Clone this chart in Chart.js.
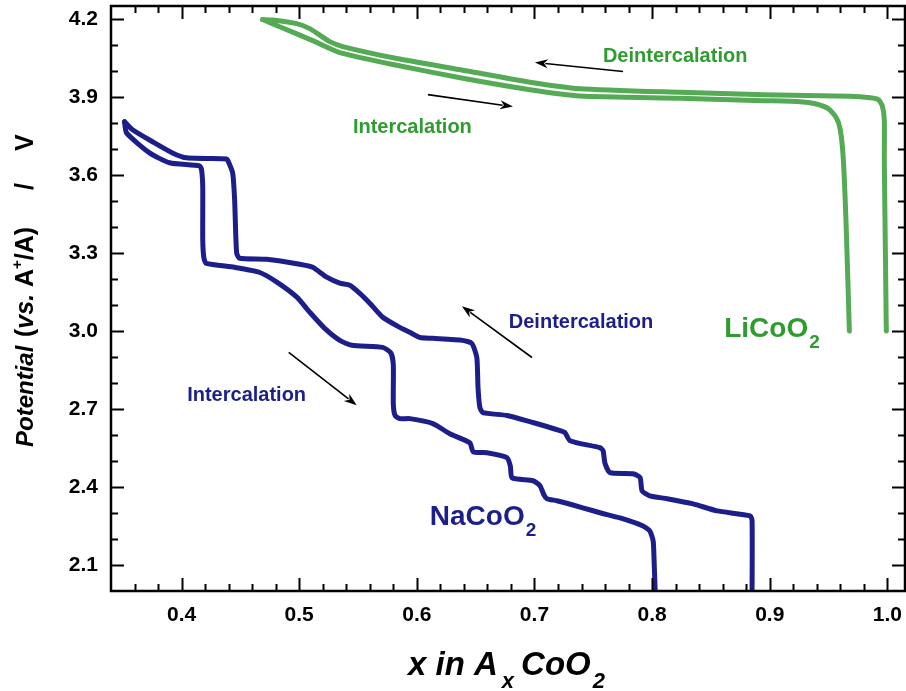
<!DOCTYPE html>
<html>
<head>
<meta charset="utf-8">
<script src="https://cdn.jsdelivr.net/npm/chart.js@4.4.0/dist/chart.umd.min.js"></script>
<style>
  html, body { margin: 0; padding: 0; background: #fff; }
</style>
</head>
<body>
<canvas id="chart" width="906" height="691"></canvas>
<script>
// NaCoO2, intercalation branch (lower curve, left to right)
const naIntX = [0.3515, 0.3532, 0.3728, 0.3898, 0.4153, 0.417, 0.418, 0.418, 0.419, 0.421, 0.445, 0.466, 0.481, 0.498,
  0.509, 0.5217, 0.5345, 0.5447, 0.571, 0.578, 0.58, 0.58, 0.5815, 0.5855, 0.594, 0.6136, 0.628, 0.645, 0.648,
  0.6596, 0.6766, 0.6795, 0.681, 0.6987, 0.7047, 0.708, 0.7106, 0.719, 0.741, 0.7557, 0.7728, 0.7923, 0.798,
  0.8009, 0.8017, 0.8026];
const naIntY = [3.805, 3.762, 3.685, 3.647, 3.635, 3.62, 3.55, 3.35, 3.28, 3.26, 3.245, 3.226, 3.188, 3.13,
  3.072, 3.01, 2.964, 2.945, 2.937, 2.915, 2.87, 2.72, 2.675, 2.663, 2.663, 2.644, 2.605, 2.57, 2.535,
  2.532, 2.513, 2.48, 2.435, 2.424, 2.405, 2.37, 2.355, 2.347, 2.32, 2.301, 2.281, 2.25, 2.231,
  2.193, 2.116, 2.0];

// NaCoO2, deintercalation branch (upper curve, right to left)
const naDeX = [0.885, 0.885, 0.8834, 0.8553, 0.835, 0.8128, 0.798, 0.7915, 0.7898, 0.7838, 0.7643, 0.76, 0.7583,
  0.7557, 0.7302, 0.726, 0.7217, 0.6987, 0.6766, 0.6562, 0.6536, 0.652, 0.651, 0.6468, 0.6391, 0.6136, 0.6026,
  0.594, 0.5855, 0.571, 0.56, 0.5515, 0.543, 0.5345, 0.5234, 0.5115, 0.5004, 0.4723, 0.4494, 0.4468, 0.4451,
  0.4434, 0.4391, 0.4383, 0.4043, 0.3923, 0.3753, 0.3583, 0.3515];
const naDeY = [2.0, 2.27, 2.289, 2.308, 2.335, 2.355, 2.366, 2.385, 2.436, 2.451, 2.455, 2.49, 2.54,
  2.551, 2.578, 2.609, 2.617, 2.648, 2.675, 2.686, 2.706, 2.783, 2.898, 2.952, 2.964, 2.972, 2.975,
  2.995, 3.014, 3.053, 3.107, 3.145, 3.176, 3.184, 3.207, 3.245, 3.257, 3.276, 3.28, 3.3, 3.504,
  3.608, 3.658, 3.662, 3.666, 3.685, 3.728, 3.774, 3.805];

// LiCoO2, deintercalation branch (from x = 1 up to 4.2 V)
const liDeX = [0.9991, 0.9983, 0.9974, 0.9974, 0.9957, 0.9923, 0.9855, 0.9685, 0.8945, 0.8238, 0.7387, 0.6962,
  0.6391, 0.583, 0.537, 0.526, 0.5174, 0.5089, 0.4979, 0.4774, 0.4689];
const liDeY = [3.0, 3.311, 3.658, 3.812, 3.866, 3.89, 3.897, 3.903, 3.909, 3.918, 3.932, 3.957,
  4.003, 4.048, 4.094, 4.113, 4.138, 4.163, 4.182, 4.196, 4.198];

// LiCoO2, intercalation branch (from 4.2 V back down to 3.0 V)
const liIntX = [0.4689, 0.4834, 0.5115, 0.5345, 0.583, 0.6391, 0.6962, 0.7387, 0.8238, 0.8945, 0.926, 0.9387,
  0.9498, 0.9566, 0.96, 0.9626, 0.9651, 0.9677];
const liIntY = [4.198, 4.17, 4.117, 4.071, 4.022, 3.972, 3.928, 3.904, 3.895, 3.886, 3.882, 3.874,
  3.855, 3.82, 3.774, 3.658, 3.388, 3.0];

const blue = '#1c1f8a';
const green = '#55ab55';
const greenText = '#2f9c2f';
const FONT = '"Liberation Sans", Arial, sans-serif';

// text labels and arrows, placed in data units
const notes = [
  { text: 'Deintercalation', x: 0.8196, y: 4.055, color: greenText },
  { text: 'Intercalation', x: 0.5962, y: 3.7835, color: greenText },
  { text: 'Deintercalation', x: 0.7396, y: 3.0315, color: blue },
  { text: 'Intercalation', x: 0.4553, y: 2.752, color: blue }
];
const formulas = [
  { main: 'LiCoO', sub: '2', x: 0.8613, y: 2.976, color: greenText },
  { main: 'NaCoO', sub: '2', x: 0.611, y: 2.254, color: blue }
];
const arrows = [
  { x1: 0.7753, y1: 3.998, x2: 0.7004, y2: 4.033 },
  { x1: 0.6094, y1: 3.909, x2: 0.6817, y2: 3.863 },
  { x1: 0.6979, y1: 2.898, x2: 0.6383, y2: 3.095 },
  { x1: 0.4911, y1: 2.918, x2: 0.5489, y2: 2.714 }
];

function toPoints(xs, ys) {
  return xs.map((x, i) => ({ x: x, y: ys[i] }));
}

function curve(xs, ys, color) {
  return {
    data: toPoints(xs, ys),
    showLine: true,
    borderColor: color,
    borderWidth: 5,
    pointRadius: 0,
    tension: 0.2,
    borderJoinStyle: 'round',
    borderCapStyle: 'round',
    fill: false
  };
}

function drawArrow(ctx, x1, y1, x2, y2) {
  const ang = Math.atan2(y2 - y1, x2 - x1);
  const len = 13, half = 4.5;
  const c = Math.cos(ang), s = Math.sin(ang);
  ctx.strokeStyle = '#000';
  ctx.fillStyle = '#000';
  ctx.lineWidth = 1.6;
  ctx.beginPath();
  ctx.moveTo(x1, y1);
  ctx.lineTo(x2 - c * len * 0.8, y2 - s * len * 0.8);
  ctx.stroke();
  ctx.beginPath();
  ctx.moveTo(x2, y2);
  ctx.lineTo(x2 - c * len + s * half, y2 - s * len - c * half);
  ctx.lineTo(x2 - c * len * 0.7, y2 - s * len * 0.7);
  ctx.lineTo(x2 - c * len - s * half, y2 - s * len + c * half);
  ctx.closePath();
  ctx.fill();
}

// frame, inward ticks on all four sides, annotations and axis titles
const decorations = {
  id: 'decorations',
  afterDatasetsDraw(chart) {
    const ctx = chart.ctx;
    const a = chart.chartArea;
    const xs = chart.scales.x, ys = chart.scales.y;
    ctx.save();

    // ticks
    ctx.strokeStyle = '#000';
    ctx.lineWidth = 2;
    const xMajor = xs.ticks.map(t => t.value);
    const yMajor = ys.ticks.map(t => t.value);
    const xMinorStep = 0.02, yMinorStep = 0.1;
    ctx.beginPath();
    for (let v = Math.ceil(xs.min / xMinorStep - 1e-6) * xMinorStep; v <= xs.max + 1e-9; v += xMinorStep) {
      if (v <= xs.min + 1e-6) continue;
      const isMajor = xMajor.some(m => Math.abs(m - v) < 1e-6);
      const len = isMajor ? 13 : 7;
      const px = Math.round(xs.getPixelForValue(v)) + 0.5;
      ctx.moveTo(px, a.bottom); ctx.lineTo(px, a.bottom - len);
      ctx.moveTo(px, a.top); ctx.lineTo(px, a.top + len);
    }
    for (let v = Math.ceil(ys.min / yMinorStep - 1e-6) * yMinorStep; v <= ys.max + 1e-9; v += yMinorStep) {
      if (v <= ys.min + 1e-6) continue;
      const isMajor = yMajor.some(m => Math.abs(m - v) < 1e-6);
      const len = isMajor ? 13 : 7;
      const py = Math.round(ys.getPixelForValue(v)) + 0.5;
      ctx.moveTo(a.left, py); ctx.lineTo(a.left + len, py);
      ctx.moveTo(a.right, py); ctx.lineTo(a.right - len, py);
    }
    ctx.stroke();

    // frame
    ctx.lineWidth = 2.5;
    ctx.strokeRect(a.left, a.top, a.right - a.left, a.bottom - a.top);

    // arrows
    arrows.forEach(ar => {
      drawArrow(ctx, xs.getPixelForValue(ar.x1), ys.getPixelForValue(ar.y1),
        xs.getPixelForValue(ar.x2), ys.getPixelForValue(ar.y2));
    });

    // text notes
    ctx.font = 'bold 20px ' + FONT;
    ctx.textAlign = 'center';
    ctx.textBaseline = 'middle';
    notes.forEach(n => {
      ctx.fillStyle = n.color;
      ctx.fillText(n.text, xs.getPixelForValue(n.x), ys.getPixelForValue(n.y));
    });

    // formulas with subscript
    ctx.textAlign = 'left';
    ctx.textBaseline = 'alphabetic';
    formulas.forEach(f => {
      const px = xs.getPixelForValue(f.x), py = ys.getPixelForValue(f.y);
      ctx.fillStyle = f.color;
      ctx.font = 'bold 28px ' + FONT;
      ctx.fillText(f.main, px, py);
      const w = ctx.measureText(f.main).width;
      ctx.font = 'bold 19px ' + FONT;
      ctx.fillText(f.sub, px + w + 1, py + 11);
    });

    // x axis title: x in AxCoO2
    ctx.fillStyle = '#000';
    let cx = 408;
    const by = 675;
    ctx.font = 'italic bold 33px ' + FONT;
    ctx.fillText('x in A', cx, by);
    cx += ctx.measureText('x in A').width + 4;
    ctx.font = 'italic bold 22px ' + FONT;
    ctx.fillText('x', cx, by + 13);
    cx += ctx.measureText('x').width + 7;
    ctx.font = 'italic bold 33px ' + FONT;
    ctx.fillText('CoO', cx, by);
    cx += ctx.measureText('CoO').width + 2;
    ctx.font = 'italic bold 22px ' + FONT;
    ctx.fillText('2', cx, by + 13);

    // y axis title: Potential (vs. A+/A)  / V
    ctx.translate(33, 447);
    ctx.rotate(-Math.PI / 2);
    const groups = [
      { at: 0, parts: [{ t: 'Potential', f: 'italic bold 24px ', dy: 0 }] },
      { at: 110, parts: [
        { t: '(', f: 'bold 25px ', dy: 0 },
        { t: 'vs.', f: 'italic bold 25px ', dy: 0 },
        { t: ' A', f: 'bold 25px ', dy: 0 },
        { t: '+', f: 'bold 15px ', dy: -11 },
        { t: '/A)', f: 'bold 25px ', dy: 0 }
      ] },
      { at: 257, parts: [{ t: '/', f: 'bold 25px ', dy: 0 }] },
      { at: 296, parts: [{ t: 'V', f: 'bold 25px ', dy: 0 }] }
    ];
    groups.forEach(g => {
      let tx = g.at;
      g.parts.forEach(p => {
        ctx.font = p.f + FONT;
        ctx.fillText(p.t, tx, p.dy);
        tx += ctx.measureText(p.t).width;
      });
    });

    ctx.restore();
  }
};

new Chart(document.getElementById('chart'), {
  type: 'scatter',
  data: {
    datasets: [
      curve(liDeX, liDeY, green),
      curve(liIntX, liIntY, green),
      curve(naDeX, naDeY, blue),
      curve(naIntX, naIntY, blue)
    ]
  },
  options: {
    responsive: false,
    animation: false,
    layout: { padding: { top: 6, right: 1, left: 0, bottom: 0 } },
    plugins: {
      legend: { display: false },
      tooltip: { enabled: false }
    },
    scales: {
      x: {
        type: 'linear',
        min: 0.34,
        max: 1.015,
        grid: { display: false },
        border: { display: false },
        ticks: {
          stepSize: 0.1,
          includeBounds: false,
          padding: 4,
          color: '#000',
          font: { family: FONT, weight: 'bold', size: 21 },
          callback: v => v.toFixed(1)
        },
        afterFit: s => {
          s.height = 100;
          s.paddingLeft = 0; s.paddingRight = 0;
        }
      },
      y: {
        type: 'linear',
        min: 2.0,
        max: 4.25,
        grid: { display: false },
        border: { display: false },
        ticks: {
          stepSize: 0.3,
          includeBounds: false,
          padding: 5,
          color: '#000',
          font: { family: FONT, weight: 'bold', size: 21 },
          callback: v => v.toFixed(1)
        },
        afterFit: s => {
          s.width = 111;
          s.paddingTop = 0; s.paddingBottom = 0;
        }
      }
    }
  },
  plugins: [decorations]
});
</script>
</body>
</html>
